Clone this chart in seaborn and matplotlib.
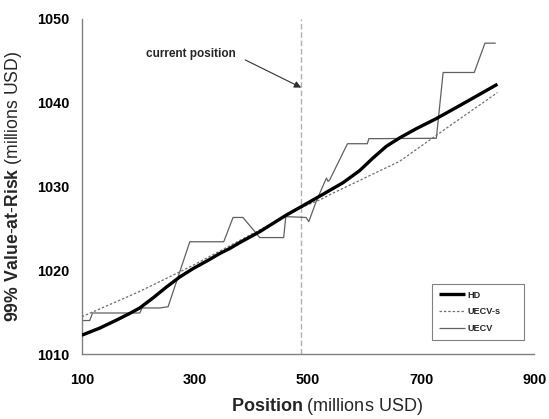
import matplotlib
matplotlib.use("Agg")
import matplotlib.pyplot as plt
import seaborn as sns
import pandas as pd
from matplotlib.lines import Line2D

# ---- data ----
hd_x = [100, 131.8, 161.3, 184.9, 202.5, 226, 249.7, 273.3, 296.8, 326.3, 344, 361.7, 379.4, 414.7, 438.3,
        462, 488.4, 521, 562, 591.5, 615, 638.7, 662.2, 691.7, 727, 768.3, 803.7, 835]
hd_y = [1012.25, 1013.1, 1014.05, 1014.85, 1015.5, 1016.7, 1018.0, 1019.2, 1020.2, 1021.3, 1022.0, 1022.6, 1023.3, 1024.6, 1025.6,
        1026.6, 1027.6, 1028.85, 1030.45, 1031.9, 1033.4, 1034.8, 1035.8, 1036.9, 1038.1, 1039.65, 1041.0, 1042.2]

uecvs_x = [100, 200, 273, 297, 400, 462, 485, 521, 544, 600, 662, 727, 750, 835]
uecvs_y = [1014.45, 1017.4, 1019.8, 1020.6, 1024.3, 1026.5, 1027.4, 1028.4, 1029.2, 1031.0, 1033.0, 1036.1, 1037.2, 1041.2]

uecv_x = [100, 114, 119, 202.5, 206.7, 238, 252.6, 291, 351, 367.5, 385, 414.7, 457, 460.7,
          496.6, 501.4, 515, 532.6, 535.5, 538.5, 569.8, 605, 607.5, 727, 739, 794, 813, 832]
uecv_y = [1014.0, 1014.0, 1014.9, 1014.9, 1015.5, 1015.5, 1015.65, 1023.4, 1023.4, 1026.3, 1026.3, 1023.9, 1023.9, 1026.4,
          1026.3, 1025.8, 1028.3, 1031.0, 1030.6, 1030.8, 1035.1, 1035.1, 1035.7, 1035.75, 1043.6, 1043.6, 1047.1, 1047.1]

series_names = ["HD", "UECV-s", "UECV"]
current_position = 488
x_ticks = [100, 300, 500, 700, 900]
y_ticks = [1010, 1020, 1030, 1040, 1050]

# ---- style ----
sns.set_theme(style="white")
plt.rcParams["font.family"] = ["Liberation Sans", "DejaVu Sans"]
plt.rcParams["mathtext.fontset"] = "custom"
plt.rcParams["mathtext.bf"] = "Liberation Sans:bold"
plt.rcParams["mathtext.rm"] = "Liberation Sans"
plt.rcParams["lines.solid_joinstyle"] = "round"
plt.rcParams["lines.solid_capstyle"] = "butt"

fig = plt.figure(figsize=(5.49, 4.19), dpi=100)
ax = fig.add_axes([0.149, 0.155, 0.824, 0.80])

df_hd = pd.DataFrame({"x": hd_x, "y": hd_y})
df_s = pd.DataFrame({"x": uecvs_x, "y": uecvs_y})
df_u = pd.DataFrame({"x": uecv_x, "y": uecv_y})

ax.axvline(current_position, color="#b0b0b0", lw=1.0, ls=(0, (4, 2)), zorder=1)

sns.lineplot(data=df_u, x="x", y="y", ax=ax, color="#606060", lw=0.9, zorder=2)
sns.lineplot(data=df_s, x="x", y="y", ax=ax, color="#707070", lw=0.9, ls=(0, (2, 1.5)), zorder=3)
sns.lineplot(data=df_hd, x="x", y="y", ax=ax, color="black", lw=2.4, zorder=4)

ax.set_xlim(100, 900)
ax.set_ylim(1010, 1050)
ax.set_xticks(x_ticks)
ax.set_yticks(y_ticks)
ax.set_xticklabels([str(v) for v in x_ticks], fontweight="bold", fontsize=10.4)
ax.set_yticklabels([str(v) for v in y_ticks], fontweight="bold", fontsize=10.4)

for s in ["top", "right"]:
    ax.spines[s].set_visible(False)
for s in ["left", "bottom"]:
    ax.spines[s].set_color("#808080")
    ax.spines[s].set_linewidth(1.0)
ax.tick_params(axis="both", direction="out", length=4.5, width=1.0, color="#808080", labelcolor="black")
ax.tick_params(axis="x", pad=9)
ax.tick_params(axis="y", pad=4.5)

ax.set_xlabel(r"$\mathbf{Position}$ (millions USD)", fontsize=13)
ax.xaxis.set_label_coords(0.542, -0.124)
ax.set_ylabel(r"$\mathbf{99\%\ Value}$-$\mathbf{at}$-$\mathbf{Risk}$ (millions USD)", fontsize=12.7)
ax.yaxis.set_label_coords(-0.128, 0.5)

ax.annotate("", xy=(current_position, 1041.8), xytext=(389, 1045.1),
            arrowprops=dict(arrowstyle="-|>", color="#303030", lw=0.8, mutation_scale=10,
                            shrinkA=0, shrinkB=0))
ax.text(292.7, 1045.8, "current position", fontsize=8.5, fontweight="bold", ha="center", va="center")

handles = [Line2D([], [], color="black", lw=2.4),
           Line2D([], [], color="#707070", lw=0.9, ls=(0, (2, 1.5))),
           Line2D([], [], color="#606060", lw=0.9)]
leg = ax.legend(handles, series_names, loc="lower left", bbox_to_anchor=(0.774, 0.042, 0.203, 0.157),
                mode="expand", prop={"weight": "bold", "size": 6.6}, frameon=True, fancybox=False,
                edgecolor="#606060", handlelength=2.9, handletextpad=0.2, labelspacing=0.85,
                borderpad=0.75, borderaxespad=0)
leg.get_frame().set_linewidth(0.8)

fig.savefig("out.png", dpi=100)
